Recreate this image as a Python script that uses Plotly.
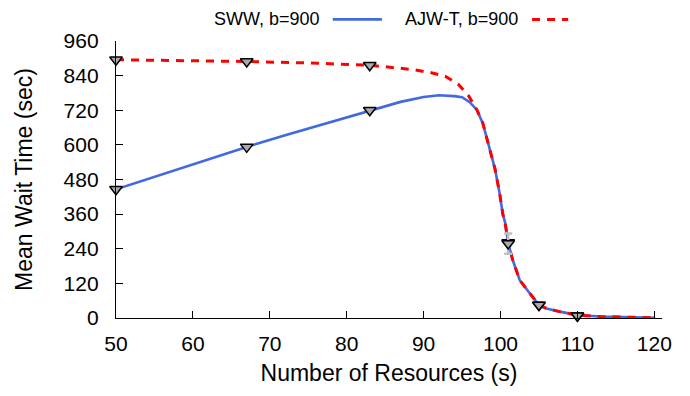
import plotly.graph_objects as go

# ---- data ----
sww_x = [50, 55, 60, 67, 72, 78, 83, 87, 90, 92, 94, 95, 96, 96.9, 97.7, 98.6, 99.3, 99.9, 100.3, 100.6, 101,
         101.6, 102.5, 103.8, 105, 106, 107.7, 110, 113, 116, 120]
sww_y = [446, 489, 532, 593, 633, 680, 720, 749, 766, 772, 769, 765, 748, 722, 675, 590, 515, 430, 360, 330, 260,
         200, 131, 86, 45, 33, 22, 10, 5, 3, 1]

ajw_x = [50, 60, 67, 75, 83, 88.6, 91, 92.8, 94.5, 95.8, 97, 97.7, 98.6, 99.3, 99.9, 100.3, 100.6, 101,
         101.6, 102.5, 103.8, 105, 106, 107.7, 110, 113, 116, 120]
ajw_y = [895, 892, 889, 884, 876, 861, 850, 838, 810, 772, 718, 675, 590, 515, 430, 360, 330, 260,
         200, 131, 86, 45, 33, 22, 10, 5, 3, 1]

pts_x = [50, 67, 83, 101, 105, 110]
sww_pts = [446, 593, 720, 258, 45, 8]
ajw_pts = [895, 889, 876, 262, 45, 8]
sww_err = [0, 0, 0, 35, 0, 0]

x_ticks = [50, 60, 70, 80, 90, 100, 110, 120]
y_ticks = [0, 120, 240, 360, 480, 600, 720, 840, 960]

FONT = "Liberation Sans, Arial, sans-serif"
BLUE = "#4169E1"
RED = "#FF0000"

fig = go.Figure()
fig.add_trace(go.Scatter(x=sww_x, y=sww_y, mode="lines", name="SWW, b=900",
                         line=dict(color=BLUE, width=2.6), showlegend=False))
fig.add_trace(go.Scatter(x=ajw_x, y=ajw_y, mode="lines", name="AJW-T, b=900",
                         line=dict(color=RED, width=3, dash="8px,7px"), showlegend=False))
marker = dict(symbol="triangle-down", size=11, color="#aaaaaa", line=dict(color="black", width=1.5))
fig.add_trace(go.Scatter(x=pts_x, y=ajw_pts, mode="markers", marker=marker, showlegend=False,
                         cliponaxis=False))
fig.add_trace(go.Scatter(x=pts_x, y=sww_pts, mode="markers", marker=marker, showlegend=False,
                         cliponaxis=False,
                         error_y=dict(type="data", array=sww_err, color="#c0c0c0", thickness=2.5, width=4)))

# legend (gnuplot style: text then sample)
legend_items = [("SWW, b=900", BLUE, "solid", 0.377, 0.397, 0.487),
                ("AJW-T, b=900", RED, "8px,7px", 0.740, 0.762, 0.828)]
annotations = []
shapes = []
for label, col, dash, xt, x0, x1 in legend_items:
    annotations.append(dict(text=label, x=xt, y=1.078, xref="paper", yref="paper",
                            xanchor="right", yanchor="middle", showarrow=False,
                            font=dict(family=FONT, size=18, color="black")))
    shapes.append(dict(type="line", xref="paper", yref="paper", x0=x0, x1=x1, y0=1.078, y1=1.078,
                       line=dict(color=col, width=3 if dash != "solid" else 2.6, dash=dash)))

fig.update_layout(
    width=690, height=396,
    margin=dict(l=116, r=28, t=41, b=78),
    paper_bgcolor="white", plot_bgcolor="white",
    font=dict(family=FONT, color="black"),
    annotations=annotations, shapes=shapes,
    showlegend=False,
)
fig.update_xaxes(range=[50, 121], tickvals=x_ticks, ticks="inside", ticklen=7, tickwidth=1,
                 tickcolor="black", showline=True, linecolor="black", linewidth=1.3,
                 showgrid=False, zeroline=False, tickfont=dict(size=21, family=FONT),
                 ticklabelstandoff=7,
                 title=dict(text="Number of Resources (s)", font=dict(size=23, family=FONT), standoff=10))
fig.update_yaxes(range=[0, 960], tickvals=y_ticks, ticks="inside", ticklen=7, tickwidth=1,
                 tickcolor="black", showline=True, linecolor="black", linewidth=1.3,
                 showgrid=False, zeroline=False, tickfont=dict(size=21, family=FONT),
                 ticklabelstandoff=12,
                 title=dict(text="Mean Wait Time (sec)", font=dict(size=23, family=FONT), standoff=24))

fig.write_html("out.html")
